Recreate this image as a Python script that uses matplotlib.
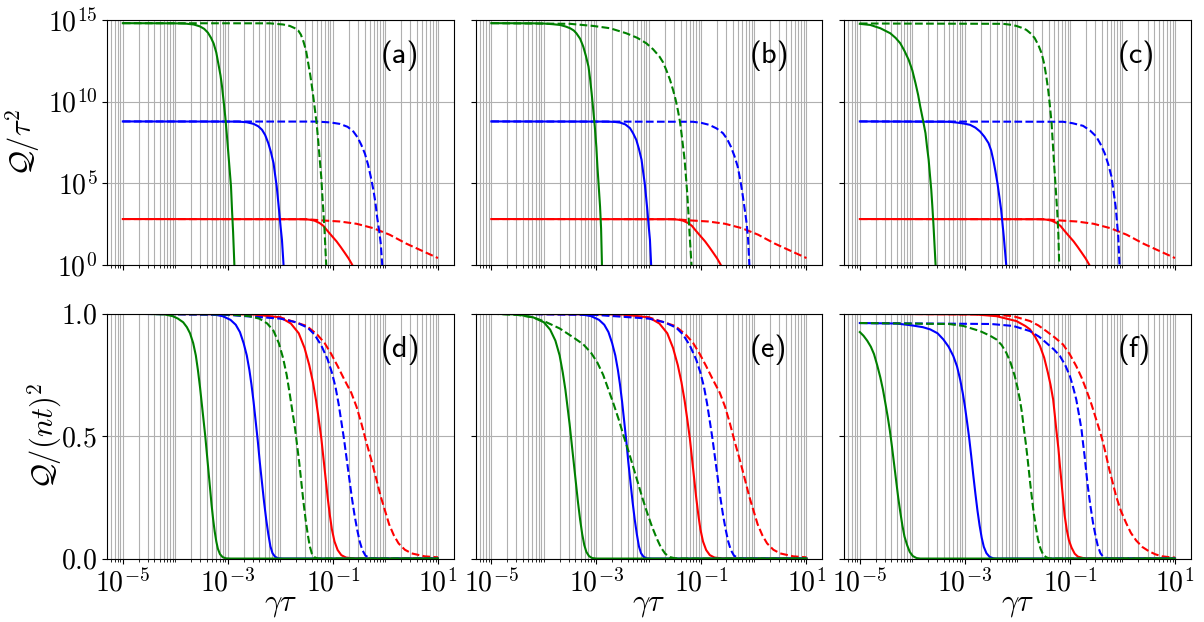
import numpy as np
import matplotlib
matplotlib.use('Agg')
import matplotlib.pyplot as plt
from matplotlib.ticker import LogLocator, NullFormatter, NullLocator

plt.rcParams['mathtext.fontset'] = 'cm'
plt.rcParams['font.family'] = 'serif'
plt.rcParams['font.serif'] = ['cmr10']
plt.rcParams['axes.formatter.use_mathtext'] = True
plt.rcParams['axes.unicode_minus'] = False

# all points are (log10 gamma*tau, value); top row values are log10(Q/tau^2)
panel_tags = ['(a)', '(b)', '(c)', '(d)', '(e)', '(f)']

# ---- top row: log10(Q / tau^2) ----
a_green = [(-5, 14.8), (-4.0, 14.79), (-3.8, 14.77), (-3.65, 14.72), (-3.53, 14.6), (-3.45, 14.45),
           (-3.38, 14.22), (-3.32, 13.9), (-3.27, 13.55), (-3.22, 13.0), (-3.18, 12.3), (-3.14, 11.6),
           (-3.11, 10.9), (-3.08, 10.0), (-3.05, 9.1), (-3.02, 8.0), (-2.99, 6.8), (-2.96, 5.6),
           (-2.94, 4.8), (-2.92, 3.3), (-2.90, 2.0), (-2.87, -0.5)]
a_green_d = [(-5, 14.8), (-2.2, 14.79), (-1.95, 14.72), (-1.82, 14.63), (-1.73, 14.5), (-1.66, 14.35),
             (-1.61, 14.1), (-1.56, 13.67), (-1.51, 13.1), (-1.47, 12.35), (-1.43, 11.6), (-1.39, 10.71),
             (-1.35, 9.7), (-1.31, 8.67), (-1.28, 7.6), (-1.25, 6.43), (-1.22, 5.3), (-1.20, 4.18),
             (-1.18, 3.2), (-1.16, 2.14), (-1.12, -0.5)]
a_blue = [(-5, 8.78), (-2.8, 8.77), (-2.64, 8.73), (-2.51, 8.63), (-2.42, 8.48), (-2.35, 8.27),
          (-2.29, 7.95), (-2.23, 7.45), (-2.18, 6.9), (-2.13, 6.22), (-2.10, 5.5), (-2.07, 4.8),
          (-2.045, 4.0), (-2.02, 3.16), (-1.995, 2.3), (-1.97, 1.53), (-1.93, -0.5)]
a_blue_d = [(-5, 8.78), (-1.3, 8.77), (-1.05, 8.72), (-0.87, 8.63), (-0.72, 8.45), (-0.61, 8.16),
            (-0.53, 7.8), (-0.46, 7.35), (-0.39, 6.8), (-0.33, 6.12), (-0.28, 5.4), (-0.23, 4.59),
            (-0.19, 3.8), (-0.16, 2.96), (-0.12, 2.1), (-0.09, 1.33), (-0.05, -0.5)]
a_red = [(-5, 2.8), (-1.6, 2.79), (-1.5, 2.78), (-1.44, 2.76), (-1.35, 2.7), (-1.25, 2.55),
         (-1.18, 2.38), (-1.12, 2.14), (-1.03, 1.8), (-0.93, 1.43), (-0.85, 1.08), (-0.77, 0.71),
         (-0.70, 0.38), (-0.65, 0.1), (-0.60, -0.2)]
a_red_d = [(-5, 2.8), (-1.5, 2.79), (-1.18, 2.71), (-0.87, 2.65), (-0.55, 2.51), (-0.23, 2.24),
           (0.08, 1.84), (0.40, 1.29), (0.72, 0.82), (1.0, 0.41)]

b_green = [(-5, 14.8), (-4.2, 14.79), (-4.01, 14.78), (-3.84, 14.74), (-3.69, 14.69), (-3.59, 14.6),
           (-3.50, 14.49), (-3.43, 14.35), (-3.38, 14.18), (-3.31, 13.85), (-3.25, 13.37), (-3.20, 12.8),
           (-3.15, 12.14), (-3.12, 11.4), (-3.09, 10.51), (-3.06, 9.5), (-3.03, 8.47), (-3.0, 7.2),
           (-2.98, 6.02), (-2.955, 4.8), (-2.93, 3.57), (-2.91, 2.2), (-2.89, -0.5)]
b_green_d = [(-5, 14.8), (-3.5, 14.76), (-3.06, 14.63), (-2.74, 14.49), (-2.43, 14.18), (-2.22, 13.9),
             (-2.05, 13.57), (-1.92, 13.2), (-1.80, 12.76), (-1.73, 12.4), (-1.67, 11.94), (-1.60, 11.35),
             (-1.54, 10.71), (-1.49, 10.1), (-1.45, 9.49), (-1.41, 8.8), (-1.38, 8.06), (-1.35, 7.25),
             (-1.32, 6.43), (-1.295, 5.4), (-1.27, 4.39), (-1.25, 3.3), (-1.23, 2.14), (-1.18, -0.5)]
b_blue = [(-5, 8.78), (-2.8, 8.77), (-2.65, 8.75), (-2.55, 8.71), (-2.45, 8.6), (-2.36, 8.37),
          (-2.30, 8.05), (-2.24, 7.65), (-2.19, 7.1), (-2.14, 6.43), (-2.11, 5.7), (-2.08, 5.0),
          (-2.055, 4.2), (-2.03, 3.37), (-2.005, 2.4), (-1.98, 1.53), (-1.95, -0.5)]
b_blue_d = [(-5, 8.78), (-1.16, 8.76), (-1.0, 8.69), (-0.85, 8.57), (-0.71, 8.35), (-0.59, 8.06),
            (-0.51, 7.7), (-0.44, 7.24), (-0.37, 6.65), (-0.31, 6.02), (-0.26, 5.2), (-0.22, 4.39),
            (-0.18, 3.5), (-0.14, 2.55), (-0.11, 1.5), (-0.08, -0.5)]
b_red = a_red
b_red_d = a_red_d

c_green = [(-5, 14.76), (-4.80, 14.69), (-4.61, 14.49), (-4.42, 14.18), (-4.32, 13.9), (-4.23, 13.57),
           (-4.15, 13.1), (-4.07, 12.55), (-4.0, 11.9), (-3.94, 11.12), (-3.89, 10.4), (-3.85, 9.69),
           (-3.80, 8.9), (-3.75, 8.06), (-3.72, 7.2), (-3.69, 6.43), (-3.665, 5.5), (-3.64, 4.59),
           (-3.62, 3.6), (-3.60, 2.55), (-3.55, -0.5)]
c_green_d = [(-5, 14.78), (-2.27, 14.76), (-2.12, 14.7), (-2.02, 14.63), (-1.92, 14.52), (-1.83, 14.39),
             (-1.74, 14.15), (-1.67, 13.88), (-1.60, 13.45), (-1.54, 12.96), (-1.49, 12.3), (-1.45, 11.53),
             (-1.41, 10.6), (-1.38, 9.69), (-1.35, 8.7), (-1.33, 7.65), (-1.31, 6.6), (-1.29, 5.61),
             (-1.265, 4.4), (-1.24, 3.16), (-1.22, 1.8), (-1.20, -0.5)]
c_blue = [(-5, 8.78), (-3.3, 8.76), (-3.15, 8.71), (-3.02, 8.65), (-2.90, 8.57), (-2.80, 8.4),
          (-2.71, 8.16), (-2.63, 7.85), (-2.55, 7.45), (-2.50, 7.0), (-2.46, 6.43), (-2.42, 5.75),
          (-2.38, 5.0), (-2.345, 4.2), (-2.31, 3.37), (-2.285, 2.55), (-2.26, 1.73), (-2.20, -0.5)]
c_blue_d = [(-5, 8.78), (-1.13, 8.76), (-0.95, 8.67), (-0.75, 8.51), (-0.62, 8.23), (-0.50, 7.86),
            (-0.42, 7.4), (-0.34, 6.84), (-0.27, 6.15), (-0.21, 5.41), (-0.17, 4.5), (-0.13, 3.57),
            (-0.105, 2.65), (-0.08, 1.73), (-0.05, -0.5)]
c_red = a_red
c_red_d = a_red_d

# ---- bottom row: Q / (n t)^2 ----
d_green = [(-5, 1.0), (-4.5, 0.999), (-4.2, 0.997), (-4.05, 0.99), (-3.95, 0.98), (-3.85, 0.965),
           (-3.78, 0.945), (-3.72, 0.92), (-3.66, 0.88), (-3.61, 0.83), (-3.57, 0.77), (-3.53, 0.70),
           (-3.49, 0.62), (-3.46, 0.56), (-3.43, 0.50), (-3.40, 0.43), (-3.37, 0.36), (-3.34, 0.29),
           (-3.31, 0.22), (-3.28, 0.16), (-3.25, 0.11), (-3.22, 0.07), (-3.19, 0.04), (-3.15, 0.018),
           (-3.10, 0.006), (-3.04, 0.001), (-2.95, 0.0), (1, 0.0)]
d_blue = [(-5, 1.0), (-3.3, 0.998), (-3.1, 0.99), (-2.95, 0.975), (-2.85, 0.955), (-2.77, 0.925),
          (-2.70, 0.88), (-2.64, 0.83), (-2.59, 0.77), (-2.55, 0.71), (-2.51, 0.64), (-2.47, 0.56),
          (-2.43, 0.48), (-2.39, 0.39), (-2.35, 0.31), (-2.31, 0.23), (-2.27, 0.16), (-2.23, 0.10),
          (-2.19, 0.05), (-2.15, 0.022), (-2.10, 0.007), (-2.04, 0.001), (-1.95, 0.0), (1, 0.0)]
d_green_d = [(-5, 1.0), (-3.0, 0.997), (-2.6, 0.99), (-2.4, 0.98), (-2.25, 0.96), (-2.13, 0.93),
             (-2.03, 0.88), (-1.95, 0.82), (-1.88, 0.75), (-1.82, 0.67), (-1.77, 0.60), (-1.72, 0.53),
             (-1.68, 0.46), (-1.64, 0.39), (-1.60, 0.31), (-1.56, 0.23), (-1.52, 0.16), (-1.48, 0.10),
             (-1.44, 0.05), (-1.40, 0.02), (-1.35, 0.005), (-1.28, 0.0), (1, 0.0)]
d_red = [(-5, 1.0), (-2.5, 0.997), (-2.0, 0.985), (-1.8, 0.96), (-1.65, 0.92), (-1.54, 0.86),
         (-1.45, 0.79), (-1.38, 0.72), (-1.32, 0.645), (-1.27, 0.57), (-1.22, 0.49), (-1.18, 0.41),
         (-1.14, 0.33), (-1.10, 0.25), (-1.06, 0.18), (-1.02, 0.12), (-0.97, 0.07), (-0.91, 0.035),
         (-0.84, 0.014), (-0.75, 0.004), (-0.6, 0.0005), (-0.4, 0.0), (1, 0.0)]
d_blue_d = [(-5, 1.0), (-3.0, 0.995), (-2.0, 0.98), (-1.7, 0.965), (-1.48, 0.943), (-1.35, 0.915),
            (-1.22, 0.87), (-1.10, 0.813), (-1.02, 0.76), (-0.95, 0.70), (-0.89, 0.63), (-0.84, 0.56),
            (-0.79, 0.49), (-0.74, 0.41), (-0.69, 0.33), (-0.64, 0.25), (-0.59, 0.18), (-0.54, 0.12),
            (-0.49, 0.07), (-0.44, 0.035), (-0.38, 0.012), (-0.30, 0.002), (-0.2, 0.0), (1, 0.0)]
d_red_d = [(-5, 1.0), (-3.0, 0.997), (-2.0, 0.985), (-1.5, 0.95), (-1.3, 0.915), (-1.16, 0.881),
           (-1.03, 0.835), (-0.91, 0.786), (-0.78, 0.73), (-0.65, 0.677), (-0.55, 0.62), (-0.46, 0.554),
           (-0.37, 0.48), (-0.27, 0.404), (-0.18, 0.33), (-0.09, 0.254), (0.0, 0.19), (0.07, 0.14),
           (0.16, 0.095), (0.25, 0.062), (0.37, 0.036), (0.5, 0.021), (0.75, 0.009), (1.0, 0.005)]

e_green = [(-5, 1.0), (-4.5, 0.997), (-4.2, 0.985), (-4.0, 0.965), (-3.88, 0.935), (-3.78, 0.89),
           (-3.70, 0.83), (-3.64, 0.76), (-3.59, 0.69), (-3.55, 0.62), (-3.51, 0.55), (-3.47, 0.47),
           (-3.43, 0.39), (-3.39, 0.31), (-3.35, 0.23), (-3.31, 0.16), (-3.27, 0.10), (-3.23, 0.055),
           (-3.19, 0.027), (-3.14, 0.01), (-3.08, 0.002), (-3.0, 0.0), (1, 0.0)]
e_green_d = [(-5, 1.0), (-4.5, 0.995), (-4.2, 0.985), (-3.95, 0.965), (-3.7, 0.94), (-3.45, 0.905),
             (-3.25, 0.875), (-3.1, 0.84), (-2.98, 0.80), (-2.87, 0.75), (-2.77, 0.69), (-2.67, 0.63),
             (-2.57, 0.565), (-2.48, 0.50), (-2.39, 0.44), (-2.30, 0.375), (-2.21, 0.31), (-2.12, 0.245),
             (-2.03, 0.185), (-1.94, 0.13), (-1.85, 0.082), (-1.77, 0.045), (-1.69, 0.02),
             (-1.60, 0.006), (-1.5, 0.001), (-1.4, 0.0), (1, 0.0)]
e_blue = d_blue
e_red = d_red
e_blue_d = d_blue_d
e_red_d = d_red_d

f_green = [(-5, 0.925), (-4.93, 0.91), (-4.86, 0.89), (-4.79, 0.865), (-4.73, 0.835), (-4.67, 0.79),
           (-4.61, 0.74), (-4.56, 0.69), (-4.51, 0.63), (-4.47, 0.58), (-4.43, 0.525), (-4.39, 0.46),
           (-4.35, 0.39), (-4.31, 0.32), (-4.27, 0.25), (-4.23, 0.19), (-4.19, 0.135), (-4.15, 0.09),
           (-4.10, 0.055), (-4.05, 0.027), (-3.99, 0.01), (-3.92, 0.002), (-3.85, 0.0), (1, 0.0)]
f_blue = [(-5, 0.962), (-4.3, 0.96), (-4.0, 0.952), (-3.8, 0.945), (-3.66, 0.936), (-3.52, 0.92),
          (-3.41, 0.895), (-3.31, 0.865), (-3.22, 0.827), (-3.15, 0.785), (-3.09, 0.731), (-3.04, 0.675),
          (-3.0, 0.622), (-2.96, 0.56), (-2.92, 0.495), (-2.88, 0.42), (-2.84, 0.34), (-2.80, 0.265),
          (-2.76, 0.195), (-2.72, 0.135), (-2.68, 0.085), (-2.64, 0.048), (-2.59, 0.022),
          (-2.53, 0.007), (-2.46, 0.001), (-2.4, 0.0), (1, 0.0)]
f_green_d = [(-5, 0.962), (-3.3, 0.958), (-3.03, 0.95), (-2.71, 0.929), (-2.52, 0.91), (-2.40, 0.895),
             (-2.30, 0.872), (-2.21, 0.84), (-2.13, 0.80), (-2.05, 0.745), (-2.0, 0.70), (-1.95, 0.645),
             (-1.91, 0.59), (-1.88, 0.535), (-1.84, 0.47), (-1.81, 0.415), (-1.78, 0.355), (-1.75, 0.295),
             (-1.72, 0.24), (-1.69, 0.186), (-1.65, 0.13), (-1.61, 0.08), (-1.56, 0.04), (-1.51, 0.016),
             (-1.45, 0.005), (-1.38, 0.0), (1, 0.0)]
f_red = [(-5, 1.0), (-2.8, 0.997), (-2.4, 0.99), (-2.02, 0.97), (-1.85, 0.95), (-1.76, 0.936),
         (-1.66, 0.905), (-1.57, 0.868), (-1.49, 0.82), (-1.42, 0.759), (-1.37, 0.71), (-1.32, 0.65),
         (-1.29, 0.59), (-1.26, 0.527), (-1.22, 0.45), (-1.19, 0.377), (-1.16, 0.31), (-1.13, 0.24),
         (-1.10, 0.175), (-1.06, 0.117), (-1.02, 0.075), (-0.97, 0.045), (-0.91, 0.02),
         (-0.85, 0.008), (-0.75, 0.002), (-0.6, 0.0), (1, 0.0)]
f_blue_d = [(-5, 0.962), (-2.5, 0.958), (-2.08, 0.95), (-1.76, 0.929), (-1.58, 0.905), (-1.45, 0.881),
            (-1.30, 0.853), (-1.19, 0.827), (-1.09, 0.79), (-1.0, 0.745), (-0.94, 0.70), (-0.88, 0.65),
            (-0.83, 0.59), (-0.78, 0.527), (-0.75, 0.47), (-0.72, 0.417), (-0.69, 0.355), (-0.66, 0.295),
            (-0.61, 0.215), (-0.56, 0.145), (-0.51, 0.09), (-0.47, 0.052), (-0.42, 0.022),
            (-0.37, 0.008), (-0.30, 0.002), (-0.22, 0.0), (1, 0.0)]
f_red_d = [(-5, 1.0), (-2.5, 0.997), (-2.08, 0.99), (-1.76, 0.97), (-1.6, 0.952), (-1.45, 0.929),
           (-1.29, 0.903), (-1.13, 0.874), (-1.0, 0.833), (-0.88, 0.786), (-0.78, 0.74), (-0.69, 0.69),
           (-0.59, 0.63), (-0.50, 0.568), (-0.43, 0.52), (-0.37, 0.475), (-0.31, 0.42), (-0.25, 0.363),
           (-0.18, 0.305), (-0.12, 0.254), (-0.03, 0.195), (0.07, 0.145), (0.16, 0.105), (0.26, 0.074),
           (0.38, 0.047), (0.51, 0.029), (0.63, 0.017), (0.76, 0.009), (0.88, 0.006), (1.0, 0.004)]

panels = [
    [a_red, a_red_d, a_blue, a_blue_d, a_green, a_green_d],
    [b_red, b_red_d, b_blue, b_blue_d, b_green, b_green_d],
    [c_red, c_red_d, c_blue, c_blue_d, c_green, c_green_d],
    [d_red, d_red_d, d_blue, d_blue_d, d_green, d_green_d],
    [e_red, e_red_d, e_blue, e_blue_d, e_green, e_green_d],
    [f_red, f_red_d, f_blue, f_blue_d, f_green, f_green_d],
]
colors = ['red', 'red', 'blue', 'blue', 'green', 'green']
styles = ['-', '--', '-', '--', '-', '--']

fig, axes = plt.subplots(2, 3, figsize=(12.04, 6.22), dpi=100, sharex=True, sharey='row')
fig.subplots_adjust(left=0.0889, right=0.989, top=0.968, bottom=0.102, wspace=0.063, hspace=0.2)

for i, ax in enumerate(axes.flat):
    top = i < 3
    for pts, c, ls in zip(panels[i], colors, styles):
        lx, ly = zip(*pts)
        yy = np.power(10.0, ly) if top else np.array(ly)
        ax.plot(np.power(10.0, lx), yy, color=c, ls=ls, lw=1.5)
    ax.set_xscale('log')
    if top:
        ax.set_yscale('log')
        ax.set_ylim(1, 1e15)
        ax.set_yticks([1, 1e5, 1e10, 1e15])
        ax.yaxis.set_minor_locator(NullLocator())
    else:
        ax.set_ylim(0, 1)
        ax.set_yticks([0, 0.5, 1.0])
        ax.set_xlabel(r'$\gamma\tau$', fontsize=22, labelpad=-4)
    ax.set_xticks([1e-5, 1e-3, 1e-1, 1e1])
    ax.xaxis.set_minor_locator(LogLocator(base=10, subs=np.arange(1, 10) * 1.0, numticks=100))
    ax.xaxis.set_minor_formatter(NullFormatter())
    ax.grid(True, which='both', axis='x', color='#b0b0b0', lw=0.8)
    ax.grid(True, which='major', axis='y', color='#b0b0b0', lw=0.8)
    ax.tick_params(labelsize=20)
    ax.text(0.79, 0.79, panel_tags[i], transform=ax.transAxes, fontsize=22,
            family='cmss10', ha='left', va='bottom')

axes[0, 0].set_ylabel(r'$\mathcal{Q}/\tau^2$', fontsize=22)
axes[1, 0].set_ylabel(r'$\mathcal{Q}/(nt)^2$', fontsize=22, labelpad=-2)

fig.savefig('out.png', dpi=100)
